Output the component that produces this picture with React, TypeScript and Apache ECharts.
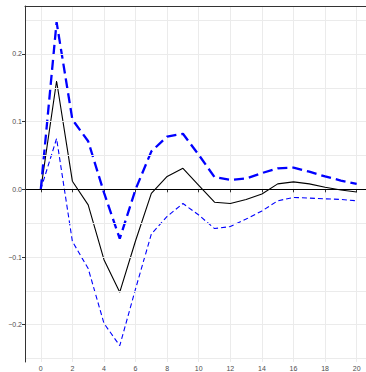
import React, { useEffect, useRef } from "react";
import * as echarts from "echarts";

const steps = [0, 1, 2, 3, 4, 5, 6, 7, 8, 9, 10, 11, 12, 13, 14, 15, 16, 17, 18, 19, 20];
const meanValues = [0, 0.160, 0.012, -0.023, -0.104, -0.152, -0.076, -0.006, 0.019, 0.031, 0.006, -0.019, -0.021, -0.015, -0.007, 0.008, 0.011, 0.008, 0.003, -0.001, -0.004];
const upperValues = [0, 0.247, 0.103, 0.071, -0.005, -0.073, 0.000, 0.056, 0.078, 0.082, 0.051, 0.018, 0.014, 0.016, 0.024, 0.031, 0.032, 0.026, 0.019, 0.013, 0.008];
const lowerValues = [0, 0.075, -0.077, -0.117, -0.198, -0.231, -0.147, -0.066, -0.040, -0.021, -0.038, -0.058, -0.055, -0.044, -0.032, -0.017, -0.012, -0.013, -0.014, -0.015, -0.017];
const xTickLabels = [0, 2, 4, 6, 8, 10, 12, 14, 16, 18, 20];
const yTickLabels = [-0.2, -0.1, 0, 0.1, 0.2];
const yGridValues = [-0.25, -0.2, -0.15, -0.1, -0.05, 0, 0.05, 0.1, 0.15, 0.2, 0.25];

const pairs = (vals: number[]) => steps.map((t, i) => [t, vals[i]]);

export default function App() {
  const ref = useRef<HTMLDivElement>(null);
  useEffect(() => {
    if (!ref.current) return;
    const chart = echarts.init(ref.current, undefined, { renderer: "svg" });
    const font = "Liberation Sans, Arial, sans-serif";
    const X_MIN = -1;
    const X_MAX = 20.59;
    chart.setOption({
      animation: false,
      backgroundColor: "#ffffff",
      grid: {
        left: 25,
        top: 6,
        right: 0,
        bottom: 10,
        show: false,
      },
      xAxis: [
        {
          type: "value",
          z: 0,
          min: X_MIN,
          max: X_MAX,
          interval: 1,
          axisLine: { show: true, lineStyle: { color: "#333333", width: 1 } },
          axisTick: {
            show: true,
            customValues: xTickLabels,
            length: 3,
            lineStyle: { color: "#333333", width: 1 },
          },
          axisLabel: {
            customValues: xTickLabels,
            fontSize: 7,
            color: "#4d4d4d",
            fontFamily: font,
            margin: 3,
          },
          splitLine: { show: true, lineStyle: { color: "#ebebeb", width: 1 } },
        },
        {
          type: "value",
          position: "top",
          z: 5,
          min: X_MIN,
          max: X_MAX,
          interval: 1,
          axisLine: { show: true, onZero: false, lineStyle: { color: "#333333", width: 1 } },
          axisTick: { show: false },
          axisLabel: { show: false },
          splitLine: { show: false },
        },
      ],
      yAxis: {
        type: "value",
        z: 5,
        min: -0.2551,
        max: 0.2708,
        axisLine: { show: true, onZero: false, lineStyle: { color: "#333333", width: 1 } },
        axisTick: {
          show: true,
          customValues: yTickLabels,
          length: 3,
          lineStyle: { color: "#333333", width: 1 },
        },
        axisLabel: {
          customValues: yTickLabels,
          fontSize: 7,
          color: "#4d4d4d",
          fontFamily: font,
          margin: 3,
          formatter: (v: number) => v.toFixed(1).replace("-", "\u2212"),
        },
        splitLine: { show: false },
      },
      series: [
        {
          type: "line",
          name: "grid",
          data: pairs(meanValues),
          showSymbol: false,
          silent: true,
          z: 1,
          lineStyle: { width: 0, opacity: 0 },
          markLine: {
            silent: true,
            symbol: "none",
            label: { show: false },
            lineStyle: { color: "#ebebeb", width: 1, type: "solid" },
            data: yGridValues.map((v) => ({ yAxis: v })),
          },
        },
        {
          type: "line",
          name: "mean",
          data: pairs(meanValues),
          showSymbol: false,
          z: 3,
          lineStyle: { color: "#000000", width: 1.1, type: "solid" },
          markLine: {
            silent: true,
            symbol: "none",
            label: { show: false },
            lineStyle: { color: "#000000", width: 1.1, type: "solid" },
            data: [{ yAxis: 0 }],
          },
        },
        {
          type: "line",
          name: "upper",
          data: pairs(upperValues),
          showSymbol: false,
          z: 3,
          lineStyle: { color: "#0000ff", width: 2.3, type: [10, 5] },
        },
        {
          type: "line",
          name: "lower",
          data: pairs(lowerValues),
          showSymbol: false,
          z: 3,
          lineStyle: { color: "#0000ff", width: 1.1, type: [5, 3] },
        },
      ],
    });
    return () => chart.dispose();
  }, []);
  return (
    <div
      ref={ref}
      style={{ position: "fixed", left: 0, top: 0, width: 366, height: 372 }}
    />
  );
}
